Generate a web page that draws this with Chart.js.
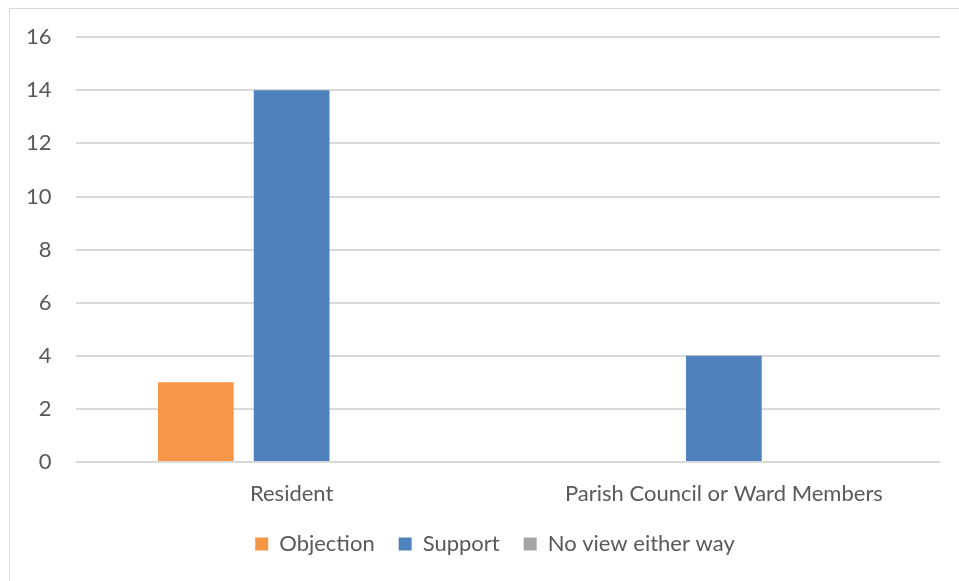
<!DOCTYPE html>
<html>
<head>
<meta charset="utf-8">
<script src="https://cdn.jsdelivr.net/npm/chart.js@4"></script>
<style>
  html, body { margin: 0; padding: 0; background: #fff; }
  #wrap { position: relative; width: 959px; height: 581px; }
  #frame { position: absolute; left: 9px; top: 8px; width: 960px; height: 600px;
           border-left: 1px solid #d9d9d9; border-top: 1px solid #d9d9d9; }
  canvas { position: absolute; left: 0; top: 0; }
</style>
</head>
<body>
<div id="wrap">
  <div id="frame"></div>
  <canvas id="chart" width="959" height="581"></canvas>
</div>
<script>
// categories and series
const categories = ["Resident", "Parish Council or Ward Members"];
const objection = [3, 0];
const support = [14, 4];
const noView = [0, 0];
const yTicks = [0, 2, 4, 6, 8, 10, 12, 14, 16];

const textColor = "#595959";
const gridColor = "#d9d9d9";
const font = { family: "Lato, 'Open Sans', sans-serif", size: 22 };

// the original legend sits a bit right of the canvas centre
const nudgeLegend = {
  id: "nudgeLegend",
  afterLayout(chart) {
    chart.legend.left += 24;
    chart.legend.right += 24;
  },
};

const ctx = document.getElementById("chart").getContext("2d");
new Chart(ctx, {
  type: "bar",
  data: {
    labels: categories,
    datasets: [
      { label: "Objection", data: objection, backgroundColor: "#f79646" },
      { label: "Support", data: support, backgroundColor: "#4f81bd" },
      { label: "No view either way", data: noView, backgroundColor: "#a5a5a5" },
    ],
  },
  options: {
    responsive: false,
    animation: false,
    datasets: { bar: { categoryPercentage: 0.665, barPercentage: 0.79 } },
    layout: { padding: { left: 2, right: 19, top: 26, bottom: 16 } },
    scales: {
      x: {
        grid: { display: false },
        border: { display: false },
        ticks: { color: textColor, font, padding: 11 },
        afterFit: (scale) => { scale.height = 47; }, // keep plot bottom where the original has it
      },
      y: {
        min: 0,
        max: 16,
        afterBuildTicks: (axis) => { axis.ticks = yTicks.map((v) => ({ value: v })); },
        grid: { color: gridColor, lineWidth: 2, drawTicks: false },
        border: { display: false },
        ticks: { color: textColor, font, padding: 24 },
      },
    },
    plugins: {
      legend: {
        position: "bottom",
        labels: { color: textColor, font, boxWidth: 13, boxHeight: 13, padding: 24 },
      },
      tooltip: { enabled: false },
    },
  },
  plugins: [nudgeLegend],
});
</script>
</body>
</html>
